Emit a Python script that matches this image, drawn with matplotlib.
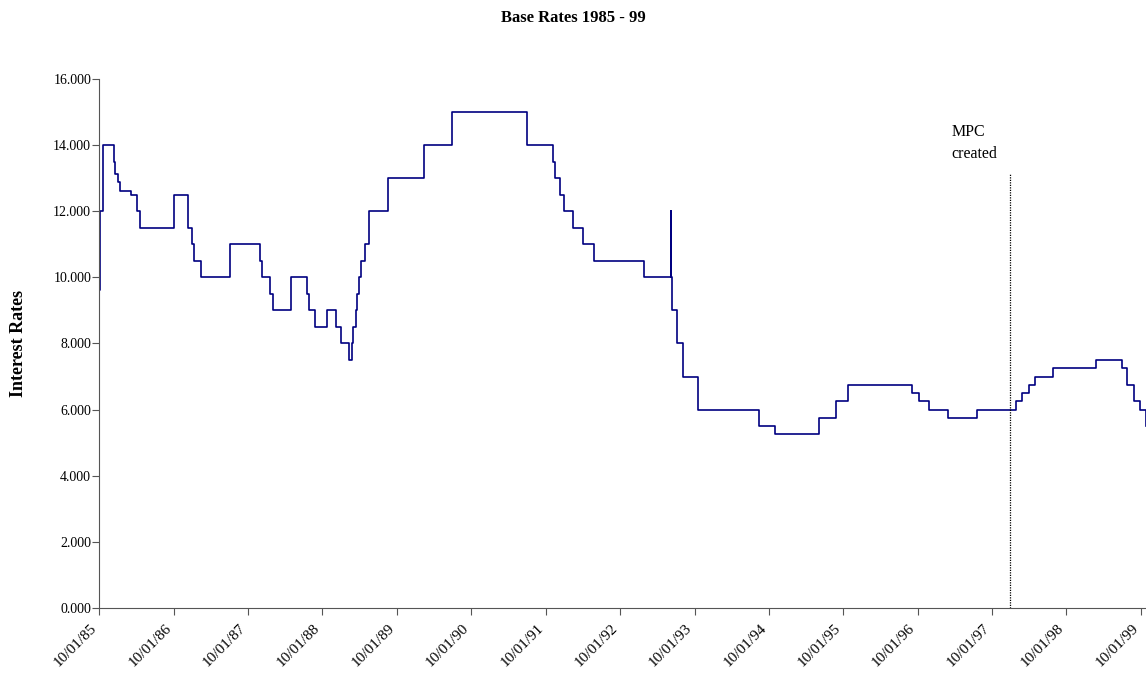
import numpy as np
import matplotlib
matplotlib.use("Agg")
import matplotlib.pyplot as plt

plt.rcParams['font.family'] = ['Liberation Serif', 'DejaVu Serif']

# Fechas de cambio del tipo base y el tipo vigente desde esa fecha
fechas = [
    '1985-01-10', '1985-01-11', '1985-01-14', '1985-01-28', '1985-03-21', '1985-03-29',
    '1985-04-10', '1985-04-19', '1985-06-12', '1985-07-15', '1985-07-29',
    '1986-01-09', '1986-03-19', '1986-04-08', '1986-04-21', '1986-05-23', '1986-10-14',
    '1987-03-10', '1987-03-19', '1987-04-29', '1987-05-11', '1987-08-07', '1987-10-26',
    '1987-11-05', '1987-12-04',
    '1988-02-02', '1988-03-17', '1988-04-11', '1988-05-18', '1988-06-03', '1988-06-06',
    '1988-06-22', '1988-06-29', '1988-07-05', '1988-07-19', '1988-08-08', '1988-08-25',
    '1988-11-25',
    '1989-05-24', '1989-10-05', '1990-10-08',
    '1991-02-13', '1991-02-27', '1991-03-22', '1991-04-12', '1991-05-24', '1991-07-12',
    '1991-09-04',
    '1992-05-05', '1992-09-16', '1992-09-17', '1992-09-22', '1992-10-16', '1992-11-13',
    '1993-01-26', '1993-11-23',
    '1994-02-08', '1994-09-12', '1994-12-07',
    '1995-02-02', '1995-12-13',
    '1996-01-18', '1996-03-08', '1996-06-06', '1996-10-30',
    '1997-05-06', '1997-06-06', '1997-07-10', '1997-08-07', '1997-11-06',
    '1998-06-04', '1998-10-08', '1998-11-05', '1998-12-10',
    '1999-01-07', '1999-02-04', '1999-02-05',
]
tipos = [
    9.625, 10.5, 12.0, 14.0, 13.5, 13.125,
    12.875, 12.625, 12.5, 12.0, 11.5,
    12.5, 11.5, 11.0, 10.5, 10.0, 11.0,
    10.5, 10.0, 9.5, 9.0, 10.0, 9.5,
    9.0, 8.5,
    9.0, 8.5, 8.0, 7.5, 8.0, 8.5,
    9.0, 9.5, 10.0, 10.5, 11.0, 12.0,
    13.0,
    14.0, 15.0, 14.0,
    13.5, 13.0, 12.5, 12.0, 11.5, 11.0,
    10.5,
    10.0, 12.0, 10.0, 9.0, 8.0, 7.0,
    6.0, 5.5,
    5.25, 5.75, 6.25,
    6.75, 6.5,
    6.25, 6.0, 5.75, 6.0,
    6.25, 6.5, 6.75, 7.0, 7.25,
    7.5, 7.25, 6.75, 6.25,
    6.0, 5.5, 5.5,
]

anios = list(range(1985, 2000))
mpc_fecha = '1997-04-09'
mpc_altura = 13.15

x = np.array(fechas, dtype='datetime64[D]')
y = np.array(tipos)

fig = plt.figure(figsize=(11.46, 6.82), dpi=100)
ax = fig.add_axes([0.0868, 0.1085, 0.9132, 0.7757])

ax.step(x, y, where='post', color='#000080', linewidth=1.2)

# Linea vertical del MPC
mpc = np.datetime64(mpc_fecha)
ax.plot([mpc, mpc], [0, mpc_altura], color='black', linestyle=(0, (1, 1)), linewidth=0.9)
ax.annotate('MPC\ncreated', xy=(mpc, mpc_altura), xytext=(-59, 11),
            textcoords='offset pixels', ha='left', va='bottom', fontsize=11.5,
            linespacing=1.55)

ax.set_xlim(np.datetime64('1985-01-10'), np.datetime64('1999-02-05'))
ax.set_ylim(0, 16)

ticks = [np.datetime64('%d-01-10' % a) for a in anios]
ax.set_xticks(ticks)
ax.set_xticklabels(['10/01/%02d' % (a % 100) for a in anios], rotation=45,
                   ha='right', va='top', fontsize=11)
ax.set_yticks(np.arange(0, 17, 2))
ax.set_yticklabels(['%.3f' % v for v in np.arange(0, 17, 2)], fontsize=10)

ax.spines['top'].set_visible(False)
ax.spines['right'].set_visible(False)
for s in ['left', 'bottom']:
    ax.spines[s].set_color('#555555')
ax.tick_params(axis='both', direction='out', length=5, color='#555555')
ax.tick_params(axis='y', pad=1)
ax.tick_params(axis='x', pad=5)

ax.set_ylabel('Interest Rates', fontsize=13, fontweight='bold', labelpad=19)
fig.text(0.5, 0.973, 'Base Rates 1985 - 99', ha='center', va='center',
         fontsize=12, fontweight='bold')

fig.savefig('out.png', dpi=100)
